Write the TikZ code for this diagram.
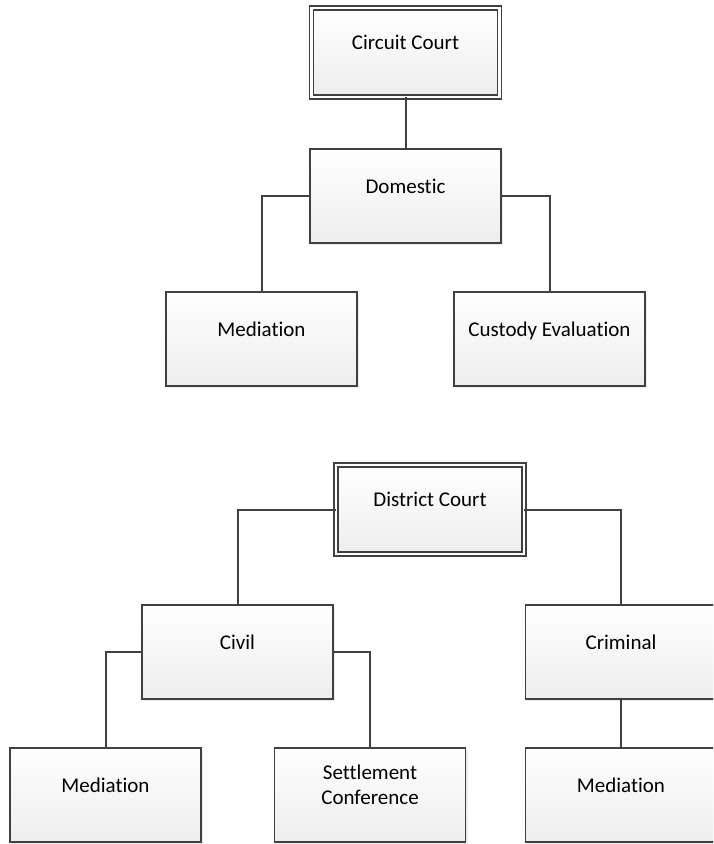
\documentclass[tikz,border=0pt]{standalone}
\usepackage{fontspec}
\setmainfont{Carlito}[Ligatures={NoCommon}]
\usetikzlibrary{positioning,shadows}
\definecolor{edgegray}{HTML}{404040}
\tikzset{
    unit/.style={rectangle,draw=edgegray,line width=1.8pt,top color=white,bottom color=black!7,
        minimum width=191pt,minimum height=94pt,inner sep=0pt,outer sep=0pt,
        text height=14pt,text depth=20pt,align=center,font=\fontsize{21pt}{25pt}\selectfont,
        drop shadow={shadow xshift=2pt,shadow yshift=-2pt,opacity=.15}},
    court/.style={unit,double=white,double distance=2.6pt,line width=1.3pt,
        minimum width=188pt,minimum height=89pt},
    twoline/.style={text height=39pt},
    link/.style={draw=edgegray,line width=2pt}
}

\begin{document}
\begin{tikzpicture}[x=1pt,y=1pt]

    \useasboundingbox (0,0) rectangle (713,-844);
    \clip (0,0) rectangle (713,-844);

    % circuit court branch
    \node[court] (circuit) at (405.5,-52.5)                                 {Circuit Court};
    \node[unit]  (domestic) [below=52pt of circuit]                          {Domestic};
    \node[unit]  (dom med)  [below=49pt of domestic,xshift=-144pt]           {Mediation};
    \node[unit]  (custody)  [below=49pt of domestic,xshift=144pt]            {Custody Evaluation};

    \draw[link] (circuit) -- (domestic);
    \draw[link] (domestic.west) -| (dom med.north);
    \draw[link] (domestic.east) -| (custody.north);

    % district court branch
    \node[court] (district) at (430,-509.5)                                 {District Court};
    \node[unit]  (civil)    [below=51pt of district,xshift=-192.5pt]         {Civil};
    \node[unit]  (criminal) [below=51pt of district,xshift=191pt]            {Criminal};
    \node[unit]  (civ med)  [below=49pt of civil,xshift=-132pt]              {Mediation};
    \node[unit,twoline] (settlement) [below=49pt of civil,xshift=132.5pt]    {Settlement\\Conference};
    \node[unit]  (crim med) [below=49pt of criminal]                         {Mediation};

    \draw[link] (district.west) -| (civil.north);
    \draw[link] (district.east) -| (criminal.north);
    \draw[link] (civil.west) -| (civ med.north);
    \draw[link] (civil.east) -| (settlement.north);
    \draw[link] (criminal) -- (crim med);

\end{tikzpicture}
\end{document}
